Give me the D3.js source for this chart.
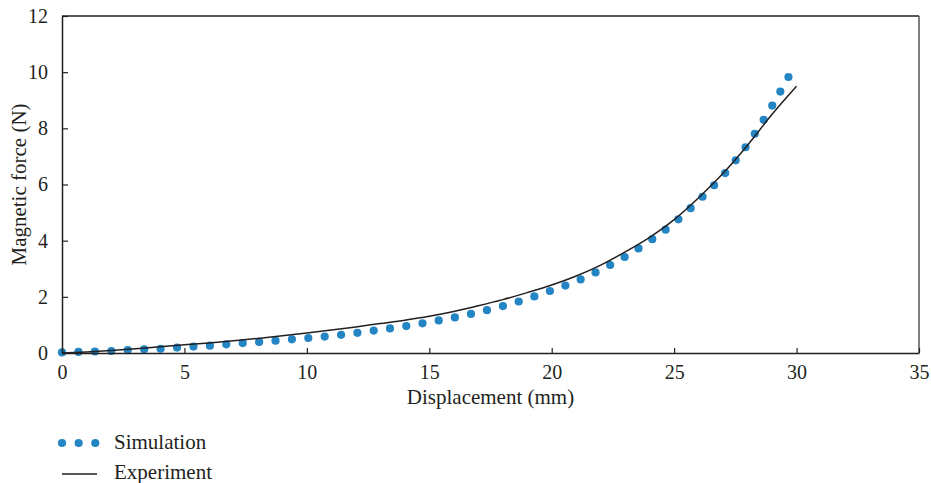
<!DOCTYPE html>
<html>
<head>
<meta charset="utf-8">
<script src="https://cdn.jsdelivr.net/npm/d3@7/dist/d3.min.js"></script>
<style>
  html, body { margin: 0; padding: 0; background: #fff; }
  svg { display: block; }
  text { font-family: "Liberation Serif", "DejaVu Serif", serif; fill: #231f20; }
</style>
</head>
<body>
<svg id="chart" width="931" height="483"></svg>
<script>
// ---- data ----
const simX = [0, 1, 2, 3, 4, 5, 6, 7, 8, 9, 10, 11, 12, 13, 14, 15, 16, 17, 18, 19, 20, 21, 22, 23, 24, 25, 26, 27, 28, 29, 29.67];
const simY = [0.02, 0.045, 0.07, 0.12, 0.15, 0.21, 0.26, 0.33, 0.39, 0.46, 0.53, 0.61, 0.71, 0.83, 0.95, 1.10, 1.26, 1.45, 1.67, 1.93, 2.23, 2.55, 2.96, 3.43, 3.99, 4.63, 5.43, 6.32, 7.43, 8.80, 9.83];
const expX = [0, 1, 2, 3, 4, 5, 6, 7, 8, 9, 10, 11, 12, 13, 14, 15, 16, 17, 18, 19, 20, 21, 22, 23, 24, 25, 26, 27, 28, 29, 30];
const expY = [0.0, 0.04, 0.09, 0.15, 0.22, 0.29, 0.36, 0.44, 0.52, 0.61, 0.71, 0.82, 0.93, 1.05, 1.17, 1.31, 1.48, 1.68, 1.90, 2.15, 2.42, 2.74, 3.13, 3.60, 4.12, 4.75, 5.53, 6.40, 7.40, 8.50, 9.50];
const xTicks = [0, 5, 10, 15, 20, 25, 30, 35];
const yTicks = [0, 2, 4, 6, 8, 10, 12];
const seriesNames = ["Simulation", "Experiment"];
const xTitle = "Displacement (mm)";
const yTitle = "Magnetic force (N)";

// ---- layout ----
const W = 931, H = 483;
const m = { left: 62, right: 12, top: 16, bottom: 130 };
const svg = d3.select("#chart");
const x = d3.scaleLinear().domain([0, 35]).range([m.left, W - m.right]);
const y = d3.scaleLinear().domain([0, 12]).range([H - m.bottom, m.top]);
const simColor = "#2485c5";
const tickFont = 20;
const titleFont = 21;

// ---- series ----
const expData = expX.map((v, i) => [v, expY[i]]);
const simData = simX.map((v, i) => [v, simY[i]]);
const line = d3.line().x(d => x(d[0])).y(d => y(d[1])).curve(d3.curveMonotoneX);

// simulation dotted line
const simPath = svg.append("path")
  .datum(simData)
  .attr("d", line)
  .attr("fill", "none")
  .attr("stroke", simColor)
  .attr("stroke-width", 8.2)
  .attr("stroke-linecap", "round");
const L = simPath.node().getTotalLength();
const n = Math.round(L / 16.5);
const sp = L / n - 0.002;
simPath.attr("stroke-dasharray", `0 ${sp}`);

svg.append("path")
  .datum(expData)
  .attr("d", line)
  .attr("fill", "none")
  .attr("stroke", "#231f20")
  .attr("stroke-width", 1.5);

// ---- frame ----
const x0 = x(0), x1 = x(35), y0 = y(0), y1 = y(12);
svg.append("line").attr("x1", x0).attr("x2", x1).attr("y1", y1).attr("y2", y1)
  .attr("stroke", "#231f20").attr("stroke-width", 1.5);
svg.append("line").attr("x1", x1).attr("x2", x1).attr("y1", y1).attr("y2", y0)
  .attr("stroke", "#555").attr("stroke-width", 1.5);

// x axis
const xAxis = svg.append("g").attr("transform", `translate(0,${y0})`)
  .call(d3.axisBottom(x).tickValues(xTicks).tickSizeInner(-5).tickSizeOuter(0).tickPadding(12).tickFormat(d3.format("d")));
xAxis.select(".domain").attr("stroke", "#231f20").attr("stroke-width", 1.5);
xAxis.selectAll(".tick line").attr("stroke", "#231f20").attr("stroke-width", 1.2);
xAxis.selectAll(".tick text").attr("font-size", tickFont).attr("font-family", "Liberation Serif").attr("fill", "#231f20");

// y axis
const yAxis = svg.append("g").attr("transform", `translate(${x0},0)`)
  .call(d3.axisLeft(y).tickValues(yTicks).tickSizeInner(-6).tickSizeOuter(0).tickPadding(14).tickFormat(d3.format("d")));
yAxis.select(".domain").attr("stroke", "#231f20").attr("stroke-width", 1.5);
yAxis.selectAll(".tick line").attr("stroke", "#231f20").attr("stroke-width", 1.2);
yAxis.selectAll(".tick text").attr("font-size", tickFont).attr("font-family", "Liberation Serif").attr("fill", "#231f20");

// axis titles
svg.append("text")
  .attr("x", (x0 + x1) / 2).attr("y", 404)
  .attr("text-anchor", "middle").attr("font-size", titleFont)
  .text(xTitle);
svg.append("text")
  .attr("transform", `translate(26,${(y0 + y1) / 2}) rotate(-90)`)
  .attr("text-anchor", "middle").attr("font-size", titleFont)
  .text(yTitle);

// ---- legend ----
const lg = svg.append("g");
lg.append("path")
  .attr("d", d3.line()([[62, 443], [95.3, 443]]))
  .attr("stroke", simColor).attr("stroke-width", 8.2)
  .attr("stroke-linecap", "round")
  .attr("stroke-dasharray", "0 16.64").attr("fill", "none");
lg.append("text").attr("x", 114).attr("y", 449).attr("font-size", titleFont).text(seriesNames[0]);
lg.append("line").attr("x1", 62).attr("x2", 97).attr("y1", 474).attr("y2", 474)
  .attr("stroke", "#231f20").attr("stroke-width", 1.5);
lg.append("text").attr("x", 114).attr("y", 479).attr("font-size", titleFont).text(seriesNames[1]);
</script>
</body>
</html>
